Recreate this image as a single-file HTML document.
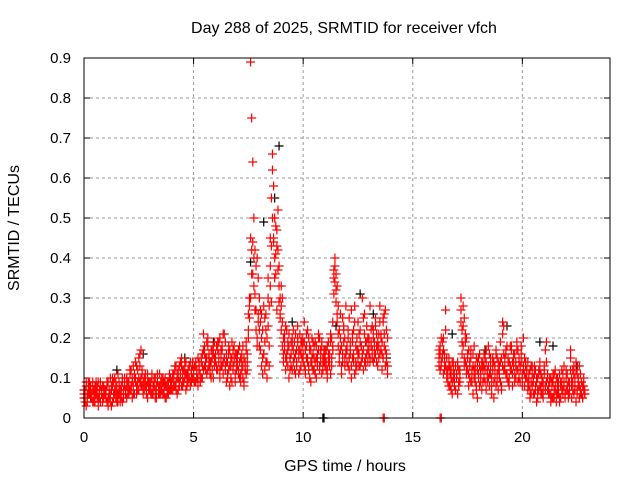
<!DOCTYPE html>
<html><head><meta charset="utf-8"><style>
body{margin:0;background:#fff}
svg text{font-family:"Liberation Sans",sans-serif;fill:#000}
</style></head><body>
<svg id="chart" width="640" height="480">
<rect x="0" y="0" width="640" height="480" fill="#fff"/>
<text x="344" y="33" font-size="16" text-anchor="middle">Day 288 of 2025, SRMTID for receiver vfch</text>
<g id="grid"></g>
<g id="ticks"></g>
<g id="marks"></g>
<rect x="84" y="58" width="526" height="360" fill="none" stroke="#000" stroke-width="1"/>
<text x="345" y="471" font-size="16" text-anchor="middle">GPS time / hours</text>
<text transform="translate(19,228) rotate(-90)" font-size="16" text-anchor="middle">SRMTID / TECUs</text>
</svg>
<script>
const xTicks=[0,5,10,15,20];
const yTicks=[0,0.1,0.2,0.3,0.4,0.5,0.6,0.7,0.8,0.9];
const yTickLabels=["0","0.1","0.2","0.3","0.4","0.5","0.6","0.7","0.8","0.9"];
const segAStart=0, segBStart=16.2, sampleStep=0.05;
const segA1=[.06,.04,.08,.05,.07,.09,.05,.06,.04,.07,.08,.06,.05,.09,.07,.04,.06,.08,.05,.07,
.05,.08,.03,.06,.10,.07,.04,.09,.06,.05,.08,.11,.06,.04,.07,.09,.05,.08,.06,.10,
.08,.06,.11,.07,.09,.13,.06,.10,.08,.12,.15,.09,.17,.11,.07,.10,.08,.06,.09,.07,
.08,.06,.10,.07,.09,.05,.08,.11,.07,.06,.09,.07,.10,.06,.08,.05,.09,.07,.11,.08,
.09,.07,.11,.08,.13,.06,.10,.09,.14,.15,.08,.12,.10,.07,.11,.09,.13,.08,.12,.10,
.10,.13,.09,.12,.08,.14,.11,.10,.16,.12,.18,.14,.11,.20,.15,.13,.17,.12,.16,.19,
.14,.18,.12,.16,.20,.13,.17,.11,.15,.19,.09,.14,.12,.17,.10,.15,.13,.18,.11,.16,
.13,.17,.10,.15,.12,.18,.09,.14,.11,.16,.20,.25,.89,.75,.64,.50,.42,.38,.40,.35,
.30,.24,.20,.15,.28,.12,.22,.10,.35,.18,.45,.55,.62,.58,.40,.48,.43,.52,.38,.30,
.28,.24,.20,.17,.15,.22,.13,.18,.12,.16,.20,.14,.19,.11,.17,.23,.15,.21,.13,.18,
.16,.24,.12,.18,.14,.20,.10,.17,.13,.19,.15,.11,.18,.14,.21,.12,.16,.19,.13,.17,
.15,.12,.18,.14,.16,.11,.20,.17,.31,.38,.36,.33,.28,.22,.17,.13,.25,.19,.15,.28,
.14,.20,.12,.17,.27,.15,.22,.11,.18,.13,.24,.16,.19,.14,.30,.17,.21,.13,.16,.20,
.16,.28,.19,.15,.22,.17,.25,.14,.19,.18,.16,.21,.12,.24,.26,.17,.14,.20];
const segA2=[.07,.05,.03,.06,.09,.06,.08,.05,.07,.04,.06,.09,.07,.03,.05,.08,.06,.04,.07,.06,
.07,.04,.09,.05,.06,.03,.08,.06,.10,.07,.04,.06,.09,.05,.08,.04,.07,.10,.06,.05,
.06,.09,.07,.12,.05,.08,.10,.14,.06,.09,.07,.13,.10,.08,.06,.09,.11,.07,.05,.08,
.07,.09,.06,.08,.10,.07,.05,.09,.06,.08,.07,.10,.06,.09,.05,.08,.07,.06,.10,.07,
.07,.10,.08,.12,.09,.11,.07,.13,.10,.08,.12,.09,.14,.11,.08,.10,.13,.09,.11,.14,
.12,.09,.14,.11,.10,.13,.09,.15,.13,.21,.16,.12,.15,.18,.13,.11,.14,.17,.10,.15,
.16,.12,.19,.14,.10,.17,.13,.21,.15,.12,.14,.10,.16,.08,.13,.19,.12,.15,.09,.14,
.15,.11,.14,.09,.16,.13,.08,.12,.17,.14,.22,.28,.30,.36,.44,.33,.27,.22,.18,.26,
.22,.17,.26,.11,.16,.25,.14,.20,.30,.13,.33,.29,.66,.44,.50,.36,.27,.42,.33,.26,
.33,.18,.14,.21,.12,.16,.19,.10,.15,.13,.18,.22,.12,.16,.14,.20,.11,.17,.19,.15,
.14,.19,.11,.15,.22,.13,.17,.09,.15,.12,.18,.14,.10,.16,.20,.13,.17,.11,.15,.14,
.13,.17,.10,.16,.13,.19,.15,.24,.35,.40,.29,.26,.18,.14,.20,.11,.16,.22,.13,.17,
.18,.13,.25,.16,.10,.19,.14,.28,.12,.17,.15,.21,.13,.18,.16,.12,.26,.15,.19,.14,
.20,.15,.18,.23,.14,.19,.16,.21,.17,.15,.28,.20,.16,.25,.18,.13,.22,.11];
const segA3=[.05,.07,.09,.04,.06,.08,.07,.05,.09,.06,.04,.07,.08,.05,.06,.09,.07,.05,.08,.06,
.06,.09,.05,.07,.04,.08,.10,.05,.07,.09,.06,.04,.08,.07,.05,.10,.06,.09,.07,.08,
.09,.07,.12,.08,.10,.06,.11,.09,.13,.07,.10,.16,.08,.12,.09,.07,.10,.08,.11,.09,
.09,.07,.11,.06,.08,.10,.06,.09,.08,.11,.06,.08,.09,.07,.10,.08,.06,.09,.07,.10,
.08,.11,.09,.13,.07,.10,.12,.08,.11,.13,.10,.09,.12,.14,.09,.12,.10,.14,.09,.13,
.11,.09,.13,.10,.15,.12,.09,.14,.10,.17,.13,.15,.19,.12,.16,.14,.10,.15,.18,.13,
.15,.13,.17,.19,.12,.15,.18,.14,.21,.13,.16,.11,.18,.13,.15,.09,.17,.14,.16,.12,
.16,.12,.18,.11,.14,.10,.15,.13,.19,.12,.26,.30,.45,.42,.36,.40,.31,.27,.20,.24,
.18,.27,.13,.22,.16,.19,.26,.14,.23,.28,.38,.43,.50,.45,.35,.41,.47,.37,.29,.25,
.22,.30,.16,.19,.23,.14,.17,.21,.15,.19,.12,.17,.15,.21,.13,.19,.17,.12,.16,.20,
.19,.13,.17,.21,.15,.12,.18,.14,.20,.16,.12,.19,.15,.13,.17,.20,.14,.18,.12,.16,
.17,.14,.12,.19,.15,.21,.13,.18,.37,.34,.32,.24,.21,.16,.26,.18,.14,.23,.20,.16,
.17,.22,.15,.19,.13,.21,.16,.24,.14,.20,.17,.13,.22,.18,.15,.25,.14,.19,.23,.17,
.18,.14,.22,.17,.20,.15,.23,.18,.13,.21,.24,.17,.19,.15,.21,.27,.16,.13];
const segB1=[.15,.18,.13,.16,.20,.14,.27,.12,.09,.15,.11,.07,.14,.10,.08,.13,.11,.06,.12,.09,
.30,.22,.18,.25,.14,.20,.12,.17,.10,.15,.09,.13,.18,.11,.08,.14,.10,.16,.12,.07,
.12,.16,.09,.14,.11,.18,.08,.13,.10,.15,.05,.12,.17,.09,.14,.11,.19,.08,.13,.23,
.15,.11,.18,.09,.14,.12,.17,.08,.13,.16,.10,.19,.12,.15,.09,.14,.11,.20,.08,.13,
.10,.14,.08,.12,.06,.11,.09,.13,.07,.10,.05,.12,.08,.11,.06,.09,.13,.07,.19,.10,
.08,.06,.10,.05,.09,.07,.12,.04,.08,.06,.11,.05,.09,.07,.13,.06,.10,.08,.05,.09,
.17,.08,.12,.06,.10,.14,.07,.09,.05,.11,.06,.08,.10,.07];
const segB2=[.17,.12,.14,.19,.11,.16,.13,.10,.12,.08,.13,.10,.06,.12,.09,.07,.11,.14,.08,.10,
.24,.16,.28,.13,.19,.11,.15,.08,.13,.17,.11,.06,.12,.09,.15,.05,.11,.13,.09,.14,
.09,.13,.15,.07,.12,.10,.16,.11,.06,.14,.09,.13,.08,.15,.12,.10,.14,.07,.24,.16,
.12,.16,.10,.14,.08,.13,.18,.11,.15,.09,.14,.12,.17,.10,.13,.16,.08,.12,.15,.10,
.12,.07,.10,.05,.09,.13,.06,.11,.08,.04,.10,.07,.12,.06,.09,.05,.11,.08,.14,.07,
.06,.09,.04,.08,.11,.05,.07,.10,.06,.09,.04,.08,.12,.06,.09,.05,.07,.11,.06,.08,
.12,.05,.09,.13,.07,.04,.11,.08,.13,.06,.09,.05,.07,.06];
const segB3=[.13,.16,.20,.15,.17,.12,.22,.15,.11,.13,.08,.12,.09,.14,.11,.07,.10,.13,.09,.12,
.27,.19,.23,.15,.21,.13,.16,.11,.14,.09,.12,.16,.10,.13,.07,.12,.15,.08,.11,.13,
.14,.10,.12,.17,.09,.13,.11,.15,.08,.12,.14,.10,.16,.11,.07,.13,.09,.15,.21,.12,
.13,.17,.11,.15,.10,.18,.12,.14,.16,.11,.13,.17,.09,.14,.12,.18,.10,.13,.11,.14,
.12,.09,.11,.07,.13,.08,.10,.06,.12,.09,.07,.11,.14,.08,.10,.07,.12,.17,.09,.11,
.07,.10,.06,.09,.05,.11,.08,.06,.10,.07,.05,.09,.07,.11,.08,.06,.12,.07,.09,.06,
.15,.10,.07,.11,.08,.12,.06,.10,.08,.07,.09,.05,.08,.06];
const blackTimes=[0.3,1.5,2.7,4.6,5.9,7.6,8.2,8.7,8.9,9.5,10.9,10.95,11.5,12.6,13.2,13.8,16.8,18.3,19.3,20.8,21.4,22.5];
const blackValues=[.08,.12,.16,.15,.19,.39,.49,.55,.68,.24,0,0,.23,.31,.26,.15,.21,.17,.23,.19,.18,.13];
const redZeroTimes=[13.65,13.7,16.25,16.3];
const redZeroValues=[0,0,0,0];

const X0=84,X1=610,Y0=418,Y1=58,XMAX=24,YMAX=0.9;
const xs=t=>X0+(t/XMAX)*(X1-X0);
const ys=v=>Y0-(v/YMAX)*(Y0-Y1);
const NS="http://www.w3.org/2000/svg";
const grid=document.getElementById('grid'),ticks=document.getElementById('ticks'),marks=document.getElementById('marks');
function mk(tag,at,parent){const e=document.createElementNS(NS,tag);for(const k in at)e.setAttribute(k,at[k]);parent.appendChild(e);return e;}
xTicks.forEach(t=>{const x=xs(t);
 if(t>0){const g=mk('line',{x1:x,y1:Y1,x2:x,y2:Y0,stroke:'#999','stroke-dasharray':'3,3'},grid);
 
 }
 const a=mk('line',{x1:x,y1:Y0,x2:x,y2:Y0-6,stroke:'#000'},ticks);
 
 
 mk('line',{x1:x,y1:Y1,x2:x,y2:Y1+6,stroke:'#000'},ticks);
 const l=mk('text',{x:x,y:Y0+24,'font-size':15,'text-anchor':'middle'},ticks);l.textContent=String(t);
 
 
});
yTicks.forEach((v,i)=>{const y=ys(v);
 if(v>0&&v<YMAX){const g=mk('line',{x1:X0,y1:y,x2:X1,y2:y,stroke:'#999','stroke-dasharray':'3,3'},grid);
 
 }
 const a=mk('line',{x1:X0,y1:y,x2:X0+6,y2:y,stroke:'#000'},ticks);
 
 
 mk('line',{x1:X1,y1:y,x2:X1-6,y2:y,stroke:'#000'},ticks);
 const l=mk('text',{x:X0-13,y:y+5,'font-size':15,'text-anchor':'end'},ticks);l.textContent=yTickLabels[i];
 
 
});
function plus(t,v,color,name){const x=xs(t),y=ys(v);
 const p=mk('path',{d:`M${x-4.5},${y}h9M${x},${y-4.5}v9`,stroke:color,'stroke-width':1.2,fill:'none'},marks);
 
 }
blackTimes.forEach((t,i)=>plus(t,blackValues[i],'#000','black-point'));
[segA1,segA2,segA3].forEach(arr=>arr.forEach((v,i)=>plus(segAStart+i*sampleStep,v,'#f00','red-point')));
[segB1,segB2,segB3].forEach(arr=>arr.forEach((v,i)=>plus(segBStart+i*sampleStep,v,'#f00','red-point')));
redZeroTimes.forEach((t,i)=>plus(t,redZeroValues[i],'#f00','red-zero-point'));
</script>
</body></html>
